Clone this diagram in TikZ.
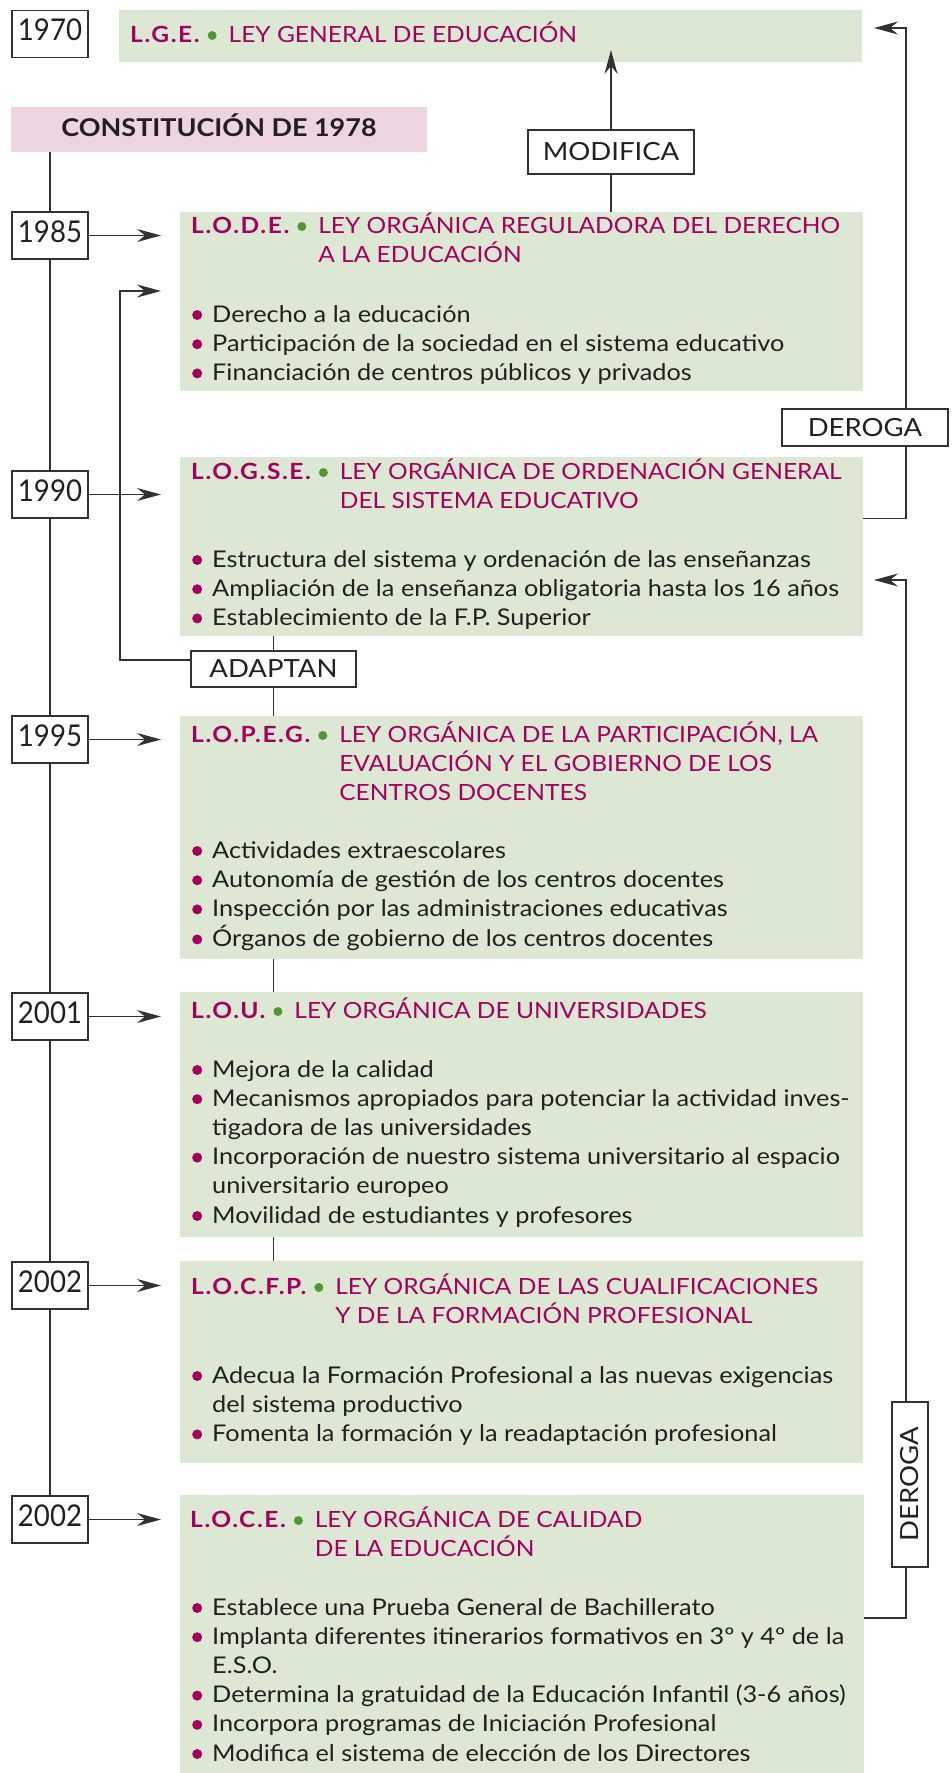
\documentclass[tikz,border=0pt]{standalone}
\usepackage{fontspec}
\setmainfont{Lato}[FakeStretch=1.1]
\newfontfamily\yearfont{Lato}[FakeStretch=0.92]
\newfontfamily\abbrfont{Lato}[FakeStretch=1.1,LetterSpace=7]
\usetikzlibrary{arrows.meta}
\definecolor{greenbox}{RGB}{221,232,212}
\definecolor{pinkbox}{RGB}{236,212,225}
\definecolor{mag}{RGB}{163,0,95}
\definecolor{dotgreen}{RGB}{80,150,50}
\definecolor{txt}{RGB}{35,31,32}
\definecolor{linec}{RGB}{50,50,50}
\newcommand{\gdot}{\tikz[baseline=-6.5pt]\fill[dotgreen] (0pt,0pt) circle (4.5pt);}
\newcommand{\bul}{\makebox[20pt][l]{\tikz[baseline=-7pt]\fill[mag] (0pt,0pt) circle (5pt);}}
\newcommand{\ttl}[2]{{\abbrfont\bfseries #1}\hspace{8pt}\gdot\hspace{12pt}\begin{tabular}[t]{@{}l@{}}#2\end{tabular}}
\newcommand{\blist}[1]{\begin{tabular}[t]{@{}l@{}l@{}}#1\end{tabular}}
\begin{document}
\begin{tikzpicture}[x=1pt,y=-1pt,
  conn/.style={draw=linec, line width=1.3pt},
  arr/.style={conn, -{Stealth[length=24pt,width=13pt,inset=8pt]}},
  gbox/.style={fill=greenbox, draw=none, inner sep=0pt},
  yearbox/.style={draw=linec, line width=1.4pt, fill=white, minimum width=76pt, minimum height=47pt, inner sep=0pt, text depth=8pt, text=txt, font=\yearfont\fontsize{30}{30}\selectfont},
  lblbox/.style={draw=linec, line width=1.3pt, fill=white, inner sep=0pt, text=txt, font=\fontsize{25}{25}\selectfont},
  titletext/.style={anchor=base west, inner sep=0pt, text=mag, font=\fontsize{22.3}{29}\selectfont},
  bullettext/.style={anchor=base west, inner sep=0pt, text=txt, font=\fontsize{23}{29.2}\selectfont}
]
\fill[white] (0,0) rectangle (952,1773);
\useasboundingbox (0,0) rectangle (952,1773);

% green boxes
\node[gbox, minimum width=743pt, minimum height=52pt] (lge) at (490.5,36) {};
\node[gbox, minimum width=683pt, minimum height=179pt] (lode) at (521.5,301.5) {};
\node[gbox, minimum width=683pt, minimum height=179pt] (logse) at (521.5,546.5) {};
\node[gbox, minimum width=683pt, minimum height=243pt] (lopeg) at (521.5,837.5) {};
\node[gbox, minimum width=683pt, minimum height=245pt] (lou) at (521.5,1114.5) {};
\node[gbox, minimum width=683pt, minimum height=202pt] (locfp) at (521.5,1362) {};
\node[gbox, minimum width=684pt, minimum height=278pt] (loce) at (522,1634) {};
\node[fill=pinkbox, inner sep=0pt, minimum width=416pt, minimum height=45pt] (pink) at (219,129.5) {};
\node[anchor=base, inner sep=0pt, text=txt, font=\fontsize{24.5}{24.5}\selectfont\bfseries] (pinktext) at (219,136) {CONSTITUCIÓN DE 1978};

% coordinates
\coordinate (tipL) at (161,0);
\coordinate (rx) at (906,0);
\coordinate (tA) at (874,28);
\coordinate (tB) at (874,580);
\coordinate (tM) at (611,50);
\coordinate (aL) at (120,660);
\coordinate (aT) at (161,291);
\coordinate (dB) at (0,1618);

% timeline
\coordinate (tlend) at (50,1496);
\draw[conn] (tlend) -- (tlend |- pink.south);

% year boxes
\node[yearbox] (y1970) at (50,34) {1970};
\node[yearbox] (y1985) at (50,235.5) {1985};
\node[yearbox] (y1990) at (50,494.5) {1990};
\node[yearbox] (y1995) at (50,739.5) {1995};
\node[yearbox] (y2001) at (50,1016.5) {2001};
\node[yearbox] (y2002) at (50,1285.5) {2002};
\node[yearbox] (y2002c) at (50,1519.5) {2002};

\foreach \y in {y1985,y1990,y1995,y2001,y2002,y2002c}
  \draw[arr] (\y.east) -- (\y.east -| tipL);

% titles
\node[titletext] (t1) at (130,42) {\ttl{L.G.E.}{LEY GENERAL DE EDUCACIÓN}};
\node[titletext] (t2) at (191,233) {\ttl{L.O.D.E.}{LEY ORGÁNICA REGULADORA DEL DERECHO\\A LA EDUCACIÓN}};
\node[titletext] (t3) at (191,479) {\ttl{L.O.G.S.E.}{LEY ORGÁNICA DE ORDENACIÓN GENERAL\\DEL SISTEMA EDUCATIVO}};
\node[titletext] (t4) at (191,742) {\ttl{L.O.P.E.G.}{LEY ORGÁNICA DE LA PARTICIPACIÓN, LA\\EVALUACIÓN Y EL GOBIERNO DE LOS\\CENTROS DOCENTES}};
\node[titletext] (t5) at (191,1018) {\ttl{L.O.U.}{LEY ORGÁNICA DE UNIVERSIDADES}};
\node[titletext] (t6) at (191,1294) {\ttl{L.O.C.F.P.}{LEY ORGÁNICA DE LAS CUALIFICACIONES\\Y DE LA FORMACIÓN PROFESIONAL}};
\node[titletext] (t7) at (190,1527) {\ttl{L.O.C.E.}{LEY ORGÁNICA DE CALIDAD\\DE LA EDUCACIÓN}};

% bullets
\node[bullettext] (b2) at (192,322) {\blist{
\bul & Derecho a la educación\\
\bul & Participación de la sociedad en el sistema educativo\\
\bul & Financiación de centros públicos y privados}};
\node[bullettext] (b3) at (192,567) {\blist{
\bul & Estructura del sistema y ordenación de las enseñanzas\\
\bul & Ampliación de la enseñanza obligatoria hasta los 16 años\\
\bul & Establecimiento de la F.P. Superior}};
\node[bullettext] (b4) at (192,858) {\blist{
\bul & Actividades extraescolares\\
\bul & Autonomía de gestión de los centros docentes\\
\bul & Inspección por las administraciones educativas\\
\bul & Órganos de gobierno de los centros docentes}};
\node[bullettext] (b5) at (192,1077) {\blist{
\bul & Mejora de la calidad\\
\bul & Mecanismos apropiados para potenciar la actividad inves-\\
     & tigadora de las universidades\\
\bul & Incorporación de nuestro sistema universitario al espacio\\
     & universitario europeo\\
\bul & Movilidad de estudiantes y profesores}};
\node[bullettext] (b6) at (192,1383) {\blist{
\bul & Adecua la Formación Profesional a las nuevas exigencias\\
     & del sistema productivo\\
\bul & Fomenta la formación y la readaptación profesional}};
\node[bullettext] (b7) at (192,1615) {\blist{
\bul & Establece una Prueba General de Bachillerato\\
\bul & Implanta diferentes itinerarios formativos en 3º y 4º de la\\
     & E.S.O.\\
\bul & Determina la gratuidad de la Educación Infantil (3-6 años)\\
\bul & Incorpora programas de Iniciación Profesional\\
\bul & Modifica el sistema de elección de los Directores}};

% label boxes
\node[lblbox, minimum width=166pt, minimum height=44pt] (modifica) at (611,152) {MODIFICA};
\node[lblbox, minimum width=166pt, minimum height=37pt] (derogaA) at (865,427.5) {DEROGA};
\node[lblbox, minimum width=165pt, minimum height=36pt] (adaptan) at (273.5,669) {ADAPTAN};
\node[lblbox, minimum width=165pt, minimum height=36pt, rotate=90] (derogaB) at (910,1484.5) {DEROGA};

% MODIFICA
\draw[conn] (lode.north -| modifica) -- (modifica.south);
\draw[arr] (modifica.north) -- (tM);

% DEROGA top
\draw[conn] (logse.east |- y1990.south) -| (rx |- derogaA.south);
\draw[arr] (rx |- derogaA.north) |- (tA);

% DEROGA bottom
\draw[conn] (loce.east |- dB) -| (rx |- derogaB.west);
\draw[arr] (rx |- derogaB.east) |- (tB);

% ADAPTAN
\draw[conn] (logse.south -| adaptan) -- (adaptan.north);
\draw[conn] (adaptan.south) -- (lopeg.north -| adaptan);
\draw[conn] (lopeg.south -| adaptan) -- (lou.north -| adaptan);
\draw[conn] (lou.south -| adaptan) -- (locfp.north -| adaptan);
\draw[arr] (adaptan.west |- aL) -- (aL) |- (aT);
\end{tikzpicture}
\end{document}
